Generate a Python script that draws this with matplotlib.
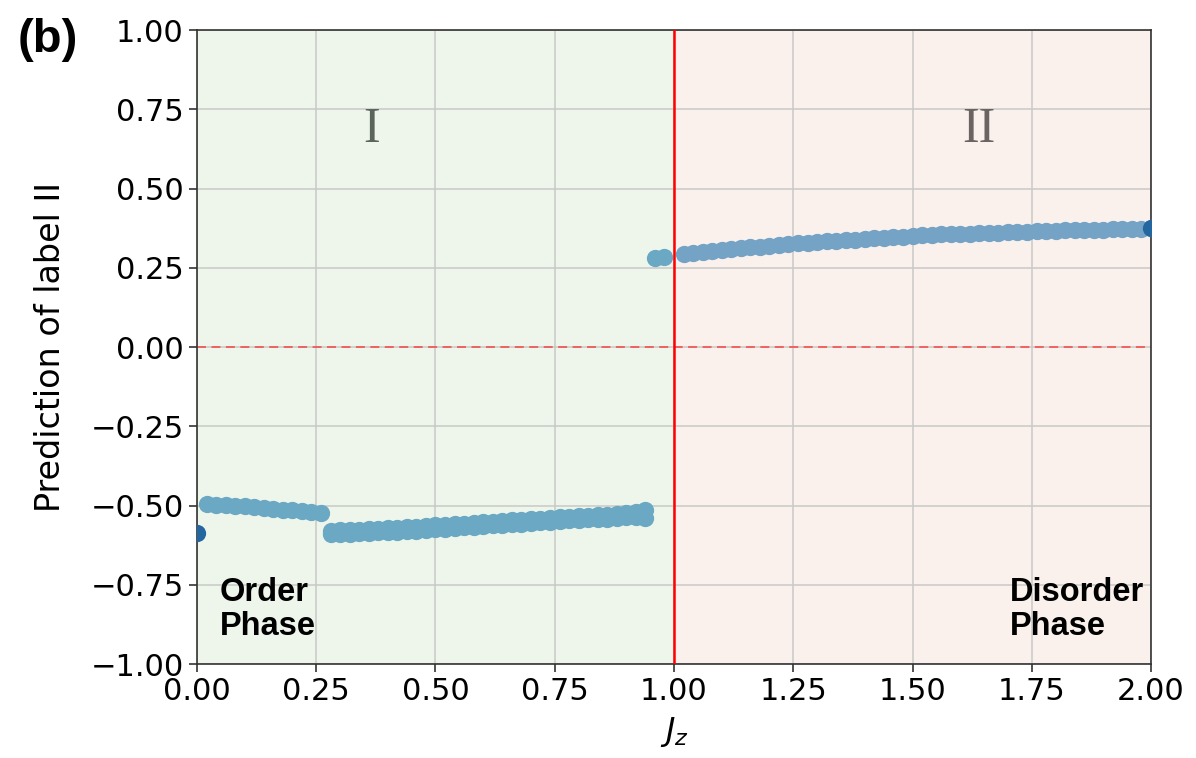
import matplotlib.pyplot as plt
import numpy as np

# Data (step 0.02 in J_z)
j_first = np.round(np.arange(0.02, 0.261, 0.02), 2)
pred_first = [-0.496, -0.497, -0.499, -0.501, -0.503, -0.505, -0.508,
              -0.510, -0.513, -0.515, -0.517, -0.519, -0.524]

j_second = np.round(np.arange(0.28, 0.941, 0.02), 2)
pred_second_a = [-0.579, -0.578, -0.577, -0.576, -0.575, -0.573, -0.572, -0.570,
                 -0.569, -0.567, -0.565, -0.563, -0.561, -0.559, -0.557, -0.555,
                 -0.553, -0.551, -0.549, -0.547, -0.545, -0.543, -0.541, -0.539,
                 -0.537, -0.535, -0.533, -0.532, -0.530, -0.529, -0.527, -0.525,
                 -0.521, -0.514]
pred_second_b = [-0.591, -0.590, -0.589, -0.588, -0.587, -0.585, -0.584, -0.582,
                 -0.581, -0.579, -0.577, -0.575, -0.573, -0.571, -0.569, -0.567,
                 -0.565, -0.563, -0.561, -0.559, -0.557, -0.555, -0.553, -0.551,
                 -0.549, -0.547, -0.545, -0.544, -0.542, -0.541, -0.539, -0.537,
                 -0.537, -0.539]

j_jump = [0.96, 0.98]
pred_jump = [0.282, 0.284]

j_disorder = np.round(np.arange(1.02, 2.001, 0.02), 2)
pred_disorder = [0.293, 0.296, 0.299, 0.302, 0.305, 0.308, 0.311, 0.314, 0.317, 0.320,
                 0.323, 0.325, 0.327, 0.329, 0.331, 0.333, 0.335, 0.337, 0.339, 0.341,
                 0.343, 0.345, 0.347, 0.348, 0.350, 0.352, 0.353, 0.355, 0.356, 0.357,
                 0.358, 0.359, 0.360, 0.361, 0.362, 0.363, 0.364, 0.365, 0.366, 0.367,
                 0.368, 0.368, 0.369, 0.370, 0.370, 0.371, 0.372, 0.372, 0.373, 0.374]

j_edges = [0.0, 2.0]
pred_edges = [-0.587, 0.374]

ticks = [-1.00, -0.75, -0.50, -0.25, 0.00, 0.25, 0.50, 0.75, 1.00]
xticks = [0.00, 0.25, 0.50, 0.75, 1.00, 1.25, 1.50, 1.75, 2.00]

fig = plt.figure(figsize=(11.96, 7.58), dpi=100)
ax = fig.add_axes([0.1647, 0.124, 0.7977, 0.8364])

# phase backgrounds
ax.axvspan(0, 1, color="#eef6eb", zorder=0, lw=0)
ax.axvspan(1, 2, color="#faf1ed", zorder=0, lw=0)

ax.set_axisbelow(True)
ax.grid(True, color="#c9c9c6", lw=1.1)

# points
left_color = "#6aa8c3"
right_color = "#74a3c6"
size = 155
ax.scatter(j_first, pred_first, s=size, color=left_color, lw=0, zorder=3)
ax.scatter(j_second, pred_second_a, s=size, color=left_color, lw=0, zorder=3)
ax.scatter(j_second, pred_second_b, s=size, color=left_color, lw=0, zorder=3)
ax.scatter(j_jump, pred_jump, s=size, color=left_color, lw=0, zorder=3)
ax.scatter(j_disorder, pred_disorder, s=size, color=right_color, lw=0, zorder=3)
ax.scatter(j_edges, pred_edges, s=size, color="#2467a0", lw=0, zorder=4)

# transition line and zero line
ax.axvline(1.0, color="red", lw=1.8, zorder=5)
ax.axhline(0.0, color="#f05a5a", lw=1.3, ls=(0, (5, 3)), zorder=2)

ax.set_xlim(0, 2)
ax.set_ylim(-1, 1)
ax.set_xticks(xticks)
ax.set_yticks(ticks)
ax.xaxis.set_major_formatter(plt.FuncFormatter(lambda x, pos: f"{x:.2f}"))
ax.yaxis.set_major_formatter(plt.FuncFormatter(lambda y, pos: f"{y:.2f}".replace("-", "\u2212")))
ax.tick_params(labelsize=22, length=6, width=1.2, color="#333333")
for s in ax.spines.values():
    s.set_color("#333333")
    s.set_linewidth(1.2)

ax.set_xlabel("$J_z$", fontsize=23, labelpad=6)
ax.set_ylabel("Prediction of label II", fontsize=24, labelpad=17)

# region labels
ax.text(0.367, 0.685, "I", fontsize=36, family="Liberation Serif",
        color="#5b665b", ha="center", va="center")
ax.text(1.64, 0.685, "II", fontsize=36, family="Liberation Serif",
        color="#6b6262", ha="center", va="center")
ax.text(0.048, -0.93, "Order\nPhase", fontsize=23.5, family="Liberation Sans",
        weight="bold", ha="left", va="bottom", linespacing=1.1)
ax.text(1.704, -0.93, "Disorder\nPhase", fontsize=23.5, family="Liberation Sans",
        weight="bold", ha="left", va="bottom", linespacing=1.1)

fig.text(0.015, 0.947, "(b)", fontsize=34, family="Liberation Sans",
         weight="bold", ha="left", va="center")

plt.savefig("out.png", dpi=100)
